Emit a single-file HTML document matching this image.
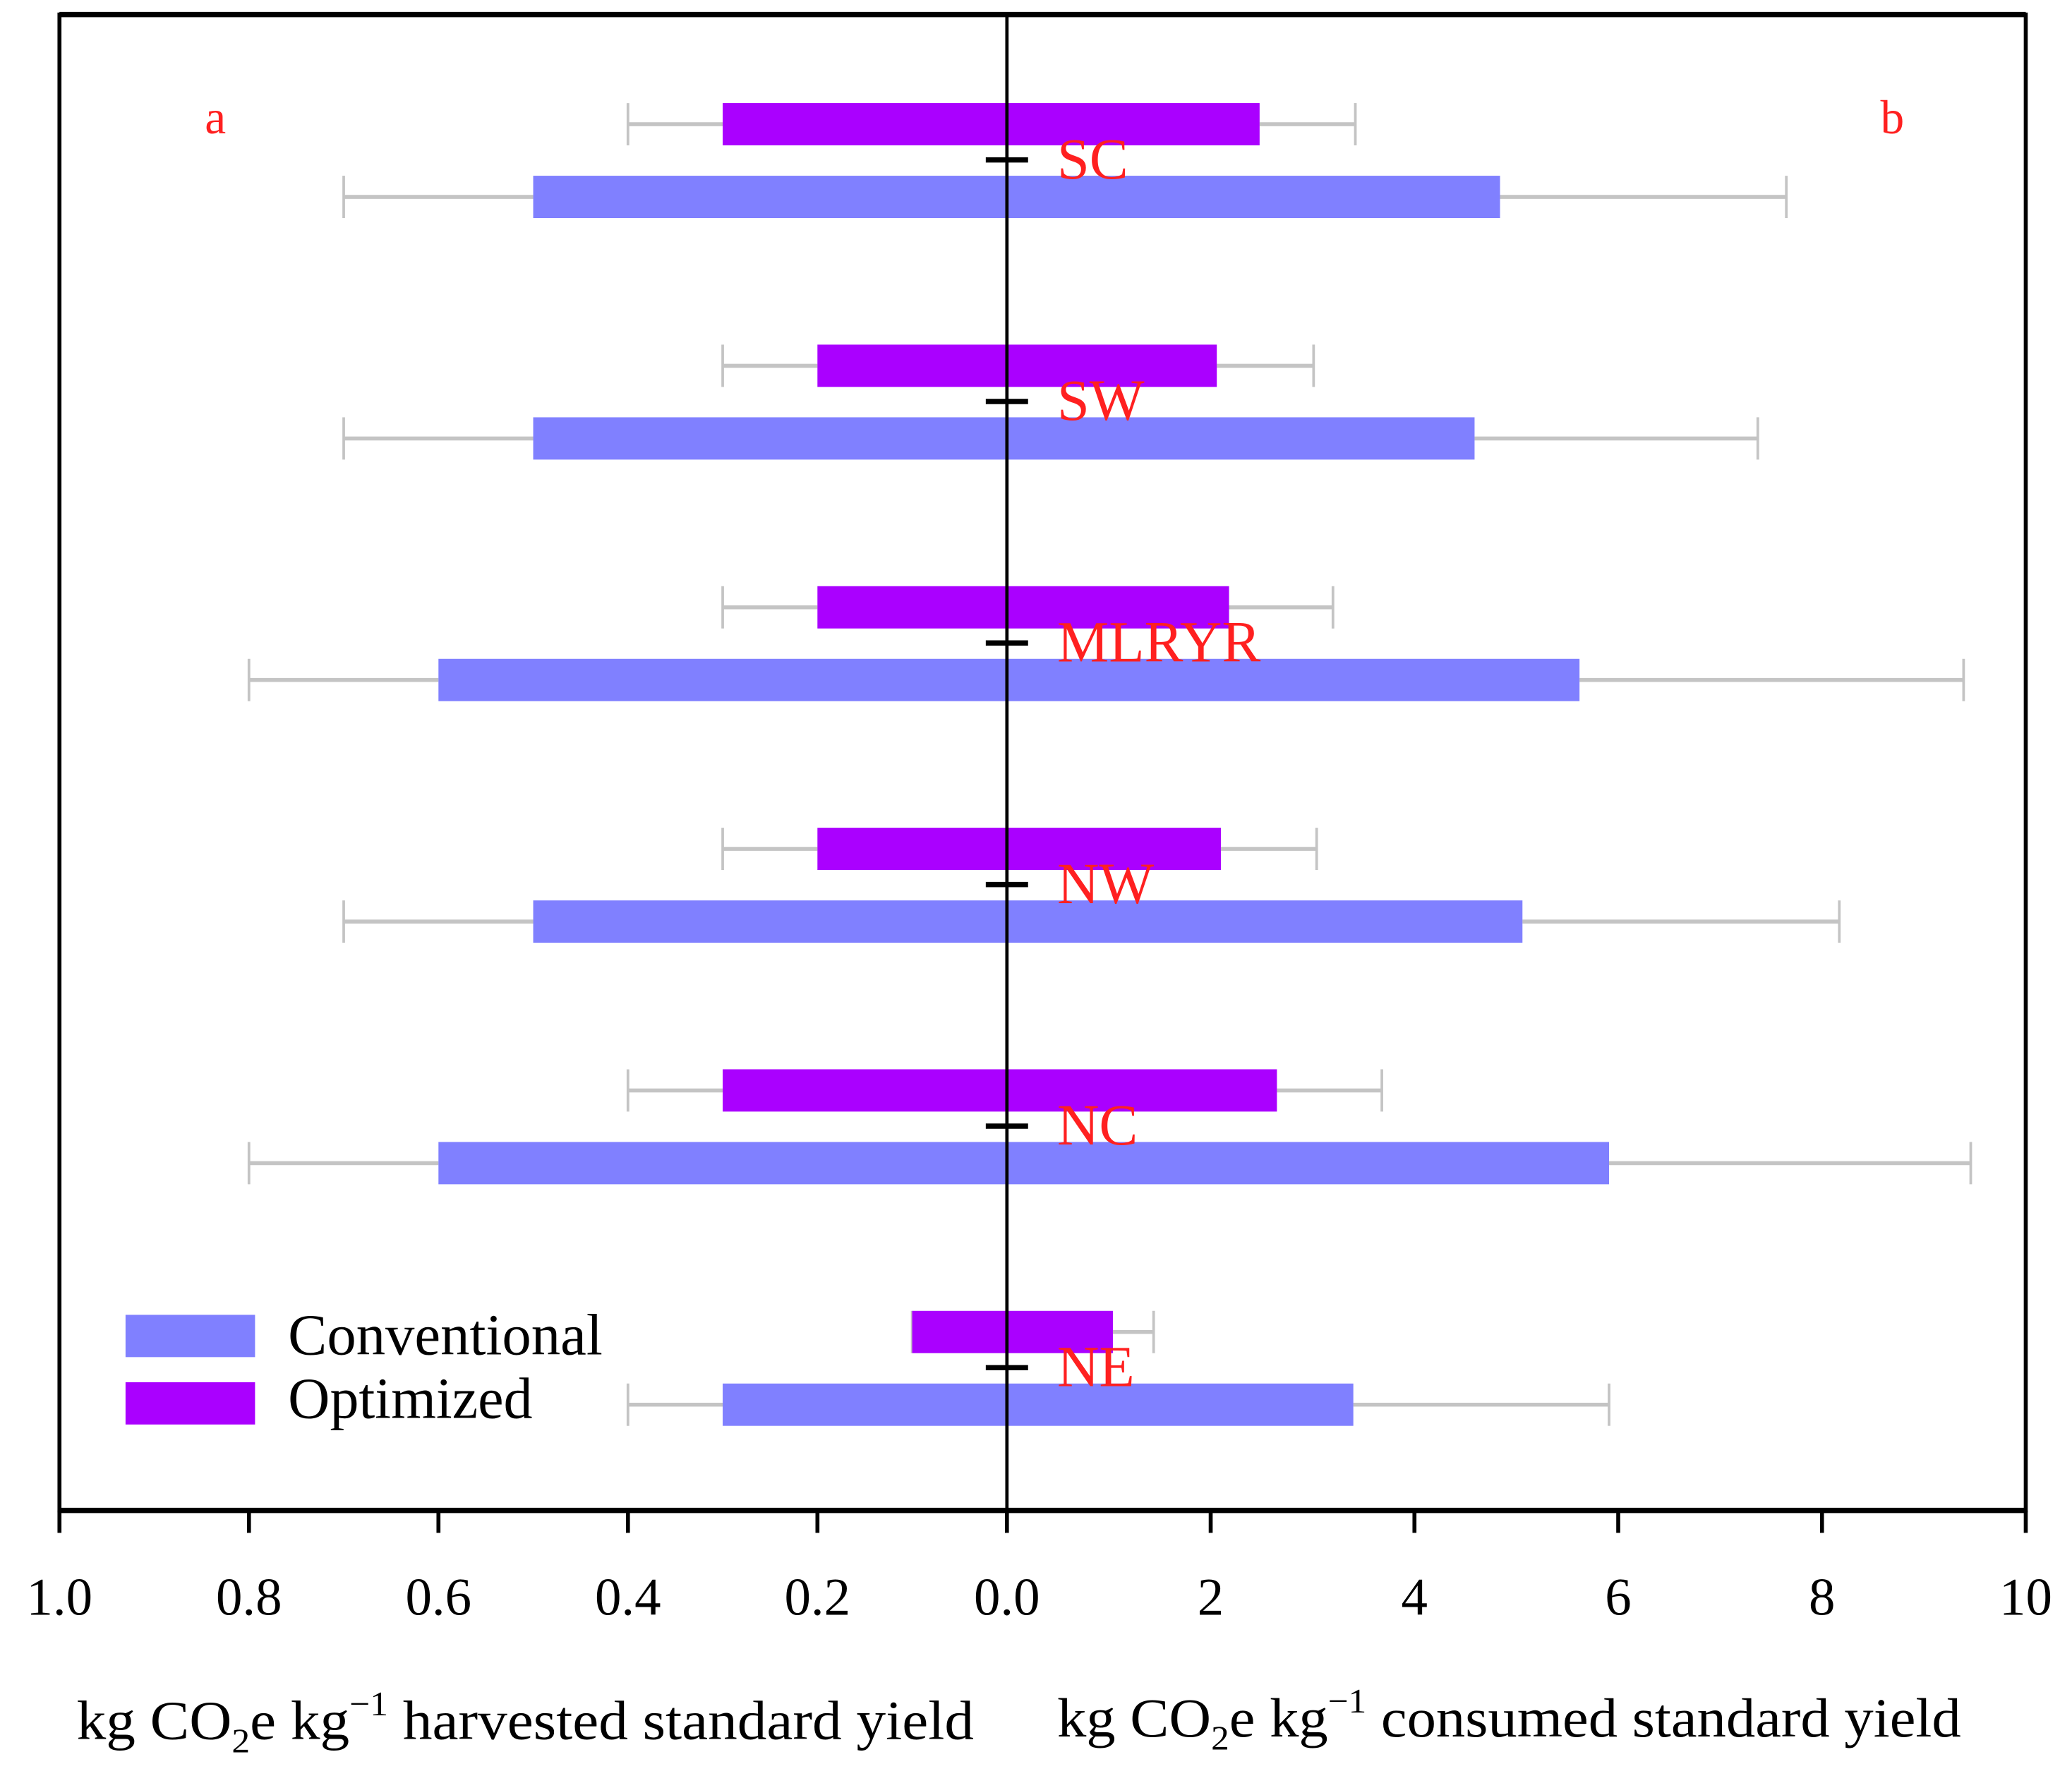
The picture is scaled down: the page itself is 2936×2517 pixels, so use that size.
<!DOCTYPE html>
<html><head><meta charset="utf-8"><style>html,body{margin:0;padding:0;background:#fff}svg{display:block}</style></head>
<body>
<svg id="chart" width="2936" height="2517" viewBox="0 0 1568 1344" preserveAspectRatio="none" xmlns="http://www.w3.org/2000/svg" font-family="'Liberation Serif', serif">
<rect x="0" y="0" width="1568" height="1344" fill="#fff"/>
<g id="marks"></g>
<rect x="45" y="11" width="1488" height="1132" fill="none" stroke="#000" stroke-width="3"/>
<line x1="45" y1="11" x2="1533" y2="11" stroke="#000" stroke-width="4"/>
<line x1="45" y1="1143" x2="1533" y2="1143" stroke="#000" stroke-width="4"/>
<line x1="762" y1="11" x2="762" y2="1143" stroke="#000" stroke-width="2.5"/>
<g id="ticks"></g>
<text x="163" y="101" font-size="36" fill="#ff2020" text-anchor="middle">a</text>
<text x="1432" y="101" font-size="36" fill="#ff2020" text-anchor="middle">b</text>
<g>
<rect x="95" y="995" width="98" height="32" fill="#8080ff"/>
<text x="218" y="1025" font-size="44" textLength="238" lengthAdjust="spacingAndGlyphs">Conventional</text>
<rect x="95" y="1046" width="98" height="32" fill="#aa00ff"/>
<text x="218" y="1073" font-size="44" textLength="185" lengthAdjust="spacingAndGlyphs">Optimized</text>
</g>
<text x="58" y="1316" font-size="42" textLength="679" lengthAdjust="spacingAndGlyphs">kg CO<tspan font-size="26" dy="10">2</tspan><tspan dy="-10">e kg</tspan><tspan font-size="26" dy="-18">−1</tspan><tspan dy="18"> harvested standard yield</tspan></text>
<text x="800" y="1314" font-size="42" textLength="684" lengthAdjust="spacingAndGlyphs">kg CO<tspan font-size="26" dy="10">2</tspan><tspan dy="-10">e kg</tspan><tspan font-size="26" dy="-18">−1</tspan><tspan dy="18"> consumed standard yield</tspan></text>
</svg>
<script>
const regions = ["SC","SW","MLRYR","NW","NC","NE"];
const leftOpt = [0.3,0.2,0.2,0.2,0.3,0.1];
const leftOptErr = [0.4,0.3,0.3,0.3,0.4,0.1];
const leftConv = [0.5,0.5,0.6,0.5,0.6,0.3];
const leftConvErr = [0.7,0.7,0.8,0.7,0.8,0.4];
const rightOpt = [2.48,2.06,2.18,2.10,2.65,1.04];
const rightOptErr = [3.42,3.01,3.20,3.04,3.68,1.44];
const rightConv = [4.84,4.59,5.62,5.06,5.91,3.40];
const rightConvErr = [7.65,7.37,9.39,8.17,9.46,5.91];
const leftTicks = ["1.0","0.8","0.6","0.4","0.2","0.0"];
const rightTicks = ["2","4","6","8","10"];

const NS="http://www.w3.org/2000/svg";
const cx=762;
function xl(v){return cx - v*717;}
function xr(v){return cx + v*77.1;}
function yc(i){return 121 + i*182.8;}
const marks=document.getElementById('marks');
function mk(tag,attrs,parent){const e=document.createElementNS(NS,tag);for(const k in attrs)e.setAttribute(k,attrs[k]);(parent||marks).appendChild(e);return e;}
function err(x1,x2,y,name){
  const g=mk('g',{});
  
  
  mk('line',{x1:x1,y1:y,x2:x2,y2:y,stroke:'#c4c4c4','stroke-width':3},g);
  mk('line',{x1:x2,y1:y-16,x2:x2,y2:y+16,stroke:'#c4c4c4','stroke-width':2},g);
}
regions.forEach((r,i)=>{
  const c=yc(i), yo=c-43, yv=c+12, h=32;
  err(xl(leftOpt[i]),xl(leftOptErr[i]),yo+h/2,'error-left-opt-'+r);
  err(xl(leftConv[i]),xl(leftConvErr[i]),yv+h/2,'error-left-conv-'+r);
  err(xr(rightOpt[i]),xr(rightOptErr[i]),yo+h/2,'error-right-opt-'+r);
  err(xr(rightConv[i]),xr(rightConvErr[i]),yv+h/2,'error-right-conv-'+r);
  let b=mk('rect',{x:xl(leftOpt[i]),y:yo,width:cx-xl(leftOpt[i]),height:h,fill:'#aa00ff'});
  
  
  b=mk('rect',{x:xl(leftConv[i]),y:yv,width:cx-xl(leftConv[i]),height:h,fill:'#8080ff'});
  
  
  b=mk('rect',{x:cx,y:yo,width:xr(rightOpt[i])-cx,height:h,fill:'#aa00ff'});
  
  
  b=mk('rect',{x:cx,y:yv,width:xr(rightConv[i])-cx,height:h,fill:'#8080ff'});
  
  
  const t=mk('line',{x1:746,y1:c,x2:778,y2:c,stroke:'#000','stroke-width':4});
  
  
  const l=mk('text',{x:800,y:c+14,'font-size':44,fill:'#ff2020'});
  l.textContent=r;
  
  
});
const tg=document.getElementById('ticks');
leftTicks.forEach(s=>{
  const x=xl(parseFloat(s));
  const t=mk('line',{x1:x,y1:1143,x2:x,y2:1160,stroke:'#000','stroke-width':3},tg);
  
  
  const l=mk('text',{x:x,y:1222,'font-size':40,'text-anchor':'middle'},tg);
  l.textContent=s;
  
  
});
rightTicks.forEach(s=>{
  const x=xr(parseFloat(s));
  const t=mk('line',{x1:x,y1:1143,x2:x,y2:1160,stroke:'#000','stroke-width':3},tg);
  
  
  const l=mk('text',{x:x,y:1222,'font-size':40,'text-anchor':'middle'},tg);
  l.textContent=s;
  
  
});
</script>
</body></html>
